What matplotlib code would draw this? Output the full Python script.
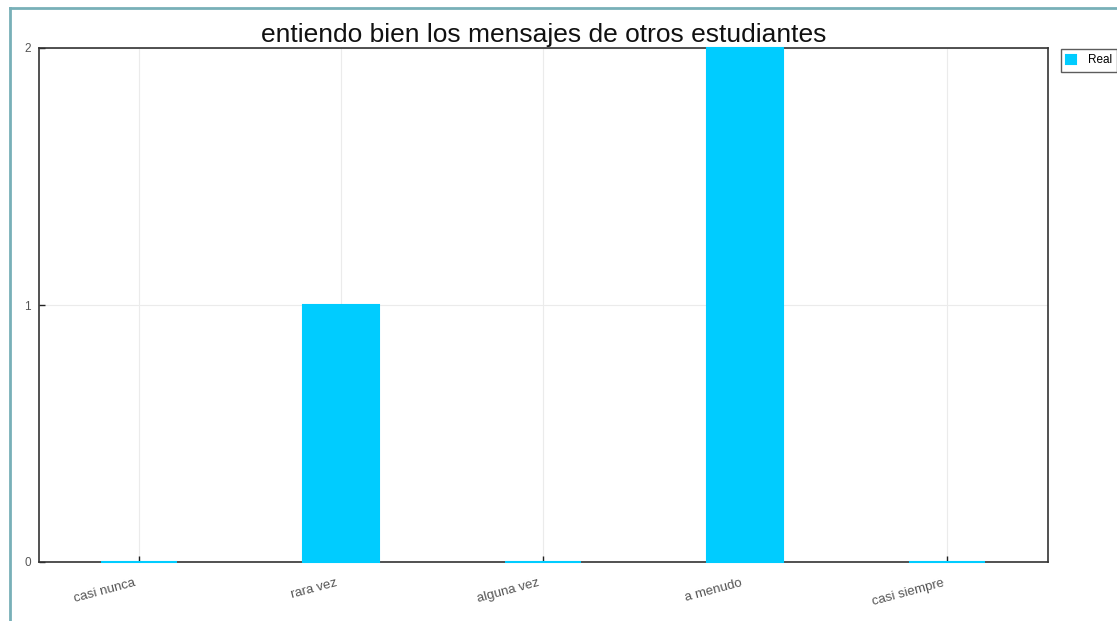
import matplotlib
matplotlib.use("Agg")
import matplotlib.pyplot as plt
from matplotlib.lines import Line2D
from matplotlib.transforms import ScaledTranslation

categories = ["casi nunca", "rara vez", "alguna vez", "a menudo", "casi siempre"]
values = [0, 1, 0, 2, 0]
yticks = [0, 1, 2]
series_name = "Real"
title = "entiendo bien los mensajes de otros estudiantes"

plt.rcParams['font.family'] = ['Liberation Sans', 'DejaVu Sans']

fig = plt.figure(figsize=(11.17, 6.21), dpi=100)
ax = fig.add_axes([39/1117, 1-562/621, (1048-39)/1117, (562-48)/621])

color = "#00CCFF"
x = list(range(len(categories)))
bars = ax.bar(x, values, width=0.376, color=color, edgecolor=color, linewidth=1.5,
              label=series_name, zorder=3)
for b in bars:
    b.set_clip_on(False)

ax.set_xlim(-0.495, 4.5)
ax.set_ylim(0, 2)
ax.set_yticks(yticks)
ax.set_yticklabels([str(v) for v in yticks])
ax.set_xticks(x)
ax.set_xticklabels(categories, rotation=15, ha="right", rotation_mode="anchor")
ax.grid(True, color="#ebebeb", linewidth=0.8, zorder=0)
ax.tick_params(direction="in", length=4, width=1, colors="#222222",
               labelcolor="#555555", labelsize=8.5, pad=6)
ax.tick_params(axis="x", labelsize=9.5, pad=11)
offset = ScaledTranslation(-0.05, 0, fig.dpi_scale_trans)
for lab in ax.get_xticklabels():
    lab.set_transform(lab.get_transform() + offset)
for s in ax.spines.values():
    s.set_color("#333333")
    s.set_linewidth(1.2)
    s.set_zorder(2.5)

ax.set_title(title, fontsize=19, pad=4, color="#111111")

leg = ax.legend(loc="upper left", bbox_to_anchor=(1061/1117, 1-49/621),
                bbox_transform=fig.transFigure, fontsize=8.5, frameon=True,
                fancybox=False, edgecolor="#333333", handlelength=0.8,
                handleheight=0.8, borderpad=0.45, handletextpad=1.0,
                borderaxespad=0)
leg.get_frame().set_linewidth(1)

# teal outer frame lines
fig.add_artist(Line2D([10/1117, 10/1117], [0, 1-8/621], transform=fig.transFigure,
                      color="#78b0b8", linewidth=2))
fig.add_artist(Line2D([10/1117, 1], [1-8/621, 1-8/621], transform=fig.transFigure,
                      color="#78b0b8", linewidth=2))

fig.savefig("out.png", dpi=100)
